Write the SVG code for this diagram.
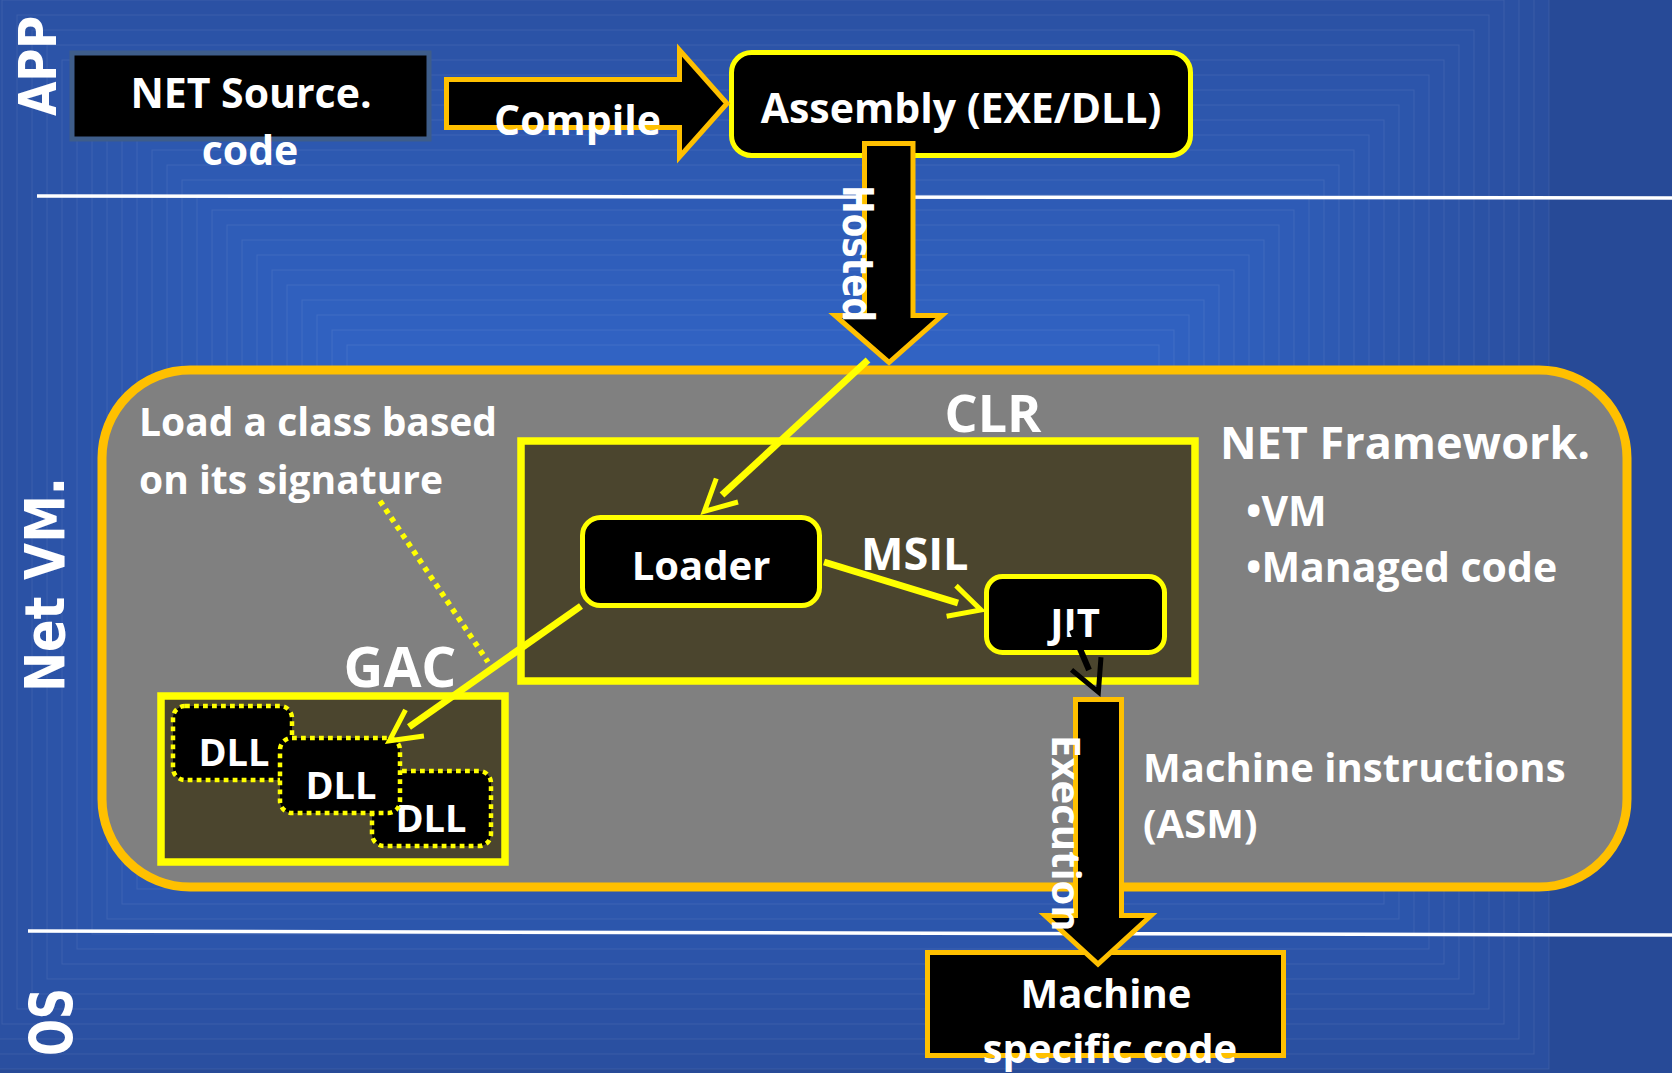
<svg xmlns="http://www.w3.org/2000/svg" width="1672" height="1073" viewBox="0 0 1672 1073">
<style>
.bg{stroke:rgba(255,255,255,0.08);stroke-width:1}
.t{font-family:"Open Sans","Liberation Sans",sans-serif;font-weight:700;fill:#fff}
.v{font-family:"DejaVu Sans","Liberation Sans",sans-serif;font-weight:700;fill:#fff}
.mid{text-anchor:middle}
.sep{stroke:#fff;stroke-width:3.5;fill:none}
.blk{fill:#000;stroke:#FFC000;stroke-width:5;stroke-linejoin:miter}
.ybox{fill:#000;stroke:#FFFF00;stroke-width:5}
.olive{fill:#4b452e;stroke:#FFFF00;stroke-width:7.5}
.dll{fill:#000;stroke:#FFFF00;stroke-width:4.5;stroke-dasharray:4.8 4.2}
.conn{stroke:#FFFF00;stroke-width:7;fill:none}
.dot{stroke:#FFFF00;stroke-width:5.5;stroke-dasharray:5 5;fill:none}
.bconn{stroke:#000;stroke-width:6;fill:none}
</style>
<defs>
<marker id="ahY" markerUnits="userSpaceOnUse" markerWidth="80" markerHeight="80" refX="0" refY="0" orient="auto" overflow="visible">
<path d="M-7,-16 L24,0 L-7,16" fill="none" stroke="#FFFF00" stroke-width="5"/>
</marker>
<marker id="ahB" markerUnits="userSpaceOnUse" markerWidth="80" markerHeight="80" refX="0" refY="0" orient="auto" overflow="visible">
<path d="M-7,-16 L24,0 L-7,16" fill="none" stroke="#000" stroke-width="5"/>
</marker>
</defs>
<g id="background">
<rect x="0" y="0" width="1672" height="1073" fill="#274a97"/>
<rect class="bg" x="-43" y="-45" width="1592" height="1114" fill="rgb(42,79,160)"/>
<rect class="bg" x="-28" y="-30" width="1562" height="1084" fill="rgb(42,80,161)"/>
<rect class="bg" x="-13" y="-15" width="1532" height="1054" fill="rgb(43,81,163)"/>
<rect class="bg" x="2" y="0" width="1502" height="1024" fill="rgb(43,81,164)"/>
<rect class="bg" x="17" y="15" width="1472" height="994" fill="rgb(43,82,165)"/>
<rect class="bg" x="32" y="30" width="1442" height="964" fill="rgb(43,83,167)"/>
<rect class="bg" x="47" y="45" width="1412" height="934" fill="rgb(44,84,168)"/>
<rect class="bg" x="62" y="60" width="1382" height="904" fill="rgb(44,84,169)"/>
<rect class="bg" x="77" y="75" width="1352" height="874" fill="rgb(44,85,171)"/>
<rect class="bg" x="92" y="90" width="1322" height="844" fill="rgb(44,86,172)"/>
<rect class="bg" x="107" y="105" width="1292" height="814" fill="rgb(45,87,173)"/>
<rect class="bg" x="122" y="120" width="1262" height="784" fill="rgb(45,87,175)"/>
<rect class="bg" x="137" y="135" width="1232" height="754" fill="rgb(45,88,176)"/>
<rect class="bg" x="152" y="150" width="1202" height="724" fill="rgb(45,89,177)"/>
<rect class="bg" x="167" y="165" width="1172" height="694" fill="rgb(46,90,179)"/>
<rect class="bg" x="182" y="180" width="1142" height="664" fill="rgb(46,91,180)"/>
<rect class="bg" x="197" y="195" width="1112" height="634" fill="rgb(46,91,182)"/>
<rect class="bg" x="212" y="210" width="1082" height="604" fill="rgb(47,92,183)"/>
<rect class="bg" x="227" y="225" width="1052" height="574" fill="rgb(47,93,184)"/>
<rect class="bg" x="242" y="240" width="1022" height="544" fill="rgb(47,94,186)"/>
<rect class="bg" x="257" y="255" width="992" height="514" fill="rgb(47,94,187)"/>
<rect class="bg" x="272" y="270" width="962" height="484" fill="rgb(48,95,188)"/>
<rect class="bg" x="287" y="285" width="932" height="454" fill="rgb(48,96,190)"/>
<rect class="bg" x="302" y="300" width="902" height="424" fill="rgb(48,97,191)"/>
<rect class="bg" x="317" y="315" width="872" height="394" fill="rgb(48,97,192)"/>
<rect class="bg" x="332" y="330" width="842" height="364" fill="rgb(49,98,194)"/>
<rect class="bg" x="347" y="345" width="812" height="334" fill="rgb(49,99,195)"/>
</g>
<g id="separators">
<line class="sep" x1="37" y1="196" x2="1672" y2="198"/>
<line class="sep" x1="28" y1="931" x2="1672" y2="935"/>
</g>
<g id="layer-labels">
<text class="v" font-size="52" textLength="100" lengthAdjust="spacingAndGlyphs" transform="translate(56,116) rotate(-90)">APP</text>
<text class="v" font-size="56" textLength="215" lengthAdjust="spacingAndGlyphs" transform="translate(64,692) rotate(-90)">Net VM.</text>
<text class="v" font-size="58" textLength="68" lengthAdjust="spacingAndGlyphs" transform="translate(72,1056) rotate(-90)">OS</text>
</g>
<g id="net-source">
<rect x="72" y="53" width="357" height="86" fill="#000" stroke="#3e5d8a" stroke-width="5"/>
<text class="t mid" x="251" y="108" font-size="41">NET Source.</text>
<text class="t mid" x="250" y="165" font-size="41">code</text>
</g>
<g id="assembly">
<rect class="ybox" x="731.5" y="52.5" width="459" height="103" rx="20"/>
<text class="t mid" x="961" y="123" font-size="41">Assembly (EXE/DLL)</text>
</g>
<g id="net-framework">
<rect x="102" y="370" width="1525" height="517" rx="88" fill="#808080" stroke="#FFC000" stroke-width="9"/>
<text class="t" x="1220" y="459" font-size="45">NET Framework.</text>
<text class="t" x="1246" y="526" font-size="41">•VM</text>
<text class="t" x="1246" y="582" font-size="41">•Managed code</text>
<text class="t" x="139" y="436" font-size="39">Load a class based</text>
<text class="t" x="139" y="494" font-size="39">on its signature</text>
<text class="t" x="1143" y="782" font-size="40">Machine instructions</text>
<text class="t" x="1143" y="838" font-size="40">(ASM)</text>
</g>
<g id="clr">
<rect class="olive" x="521" y="441" width="674" height="240"/>
<text class="t mid" x="993" y="432" font-size="52">CLR</text>
</g>
<g id="loader">
<rect class="ybox" x="582.5" y="517.5" width="237" height="88" rx="18"/>
<text class="t mid" x="701" y="580" font-size="40">Loader</text>
</g>
<g id="jit">
<rect class="ybox" x="986.5" y="576.5" width="178" height="76" rx="16"/>
<text class="t mid" x="1075" y="637" font-size="40">JIT</text>
</g>
<g id="gac">
<rect class="olive" x="161" y="696" width="344" height="166"/>
<text class="t mid" x="400" y="687" font-size="55">GAC</text>
</g>
<g id="dll1">
<rect class="dll" x="173" y="706" width="119" height="74" rx="12"/>
<text class="t mid" x="234" y="766" font-size="38">DLL</text>
</g>
<g id="dll3">
<rect class="dll" x="372" y="771" width="119" height="75" rx="12"/>
<text class="t mid" x="431" y="832" font-size="38">DLL</text>
</g>
<g id="dll2">
<rect class="dll" x="280" y="738" width="120" height="75" rx="12"/>
<text class="t mid" x="341" y="799" font-size="38">DLL</text>
</g>
<g id="machine">
<rect x="927.5" y="952.5" width="356" height="103" fill="#000" stroke="#FFC000" stroke-width="5"/>
<text class="t mid" x="1106" y="1008" font-size="40">Machine</text>
<text class="t mid" x="1110" y="1063" font-size="40">specific code</text>
</g>
<g id="connectors">
<polygon class="blk" points="446.5,79.5 679.5,79.5 679.5,50 727,103.5 679.5,157 679.5,127.5 446.5,127.5"/>
<text class="t" x="494" y="135" font-size="41">Compile</text>
<polygon class="blk" points="864.5,143.5 913,143.5 913,315.5 942,315.5 889,362.5 835,315.5 864.5,315.5"/>
<text class="v" font-size="42" textLength="137" lengthAdjust="spacingAndGlyphs" transform="translate(843,185) rotate(90)">Hosted</text>
<polygon class="blk" points="1075.5,699.5 1121.5,699.5 1121.5,915.5 1151,915.5 1098,964 1045,915.5 1075.5,915.5"/>
<text class="t" font-size="40" transform="translate(1052,735) rotate(90)">Execution</text>
<line class="conn" x1="868" y1="360" x2="722" y2="495" marker-end="url(#ahY)"/>
<line class="conn" x1="824" y1="562" x2="958" y2="603" marker-end="url(#ahY)"/>
<text class="t" x="861" y="570" font-size="45">MSIL</text>
<line class="conn" x1="581" y1="606" x2="409" y2="727" marker-end="url(#ahY)"/>
<line class="dot" x1="380" y1="501" x2="488" y2="662"/>
<line class="bconn" x1="1072" y1="630" x2="1089" y2="670" marker-end="url(#ahB)"/>
</g>
</svg>
